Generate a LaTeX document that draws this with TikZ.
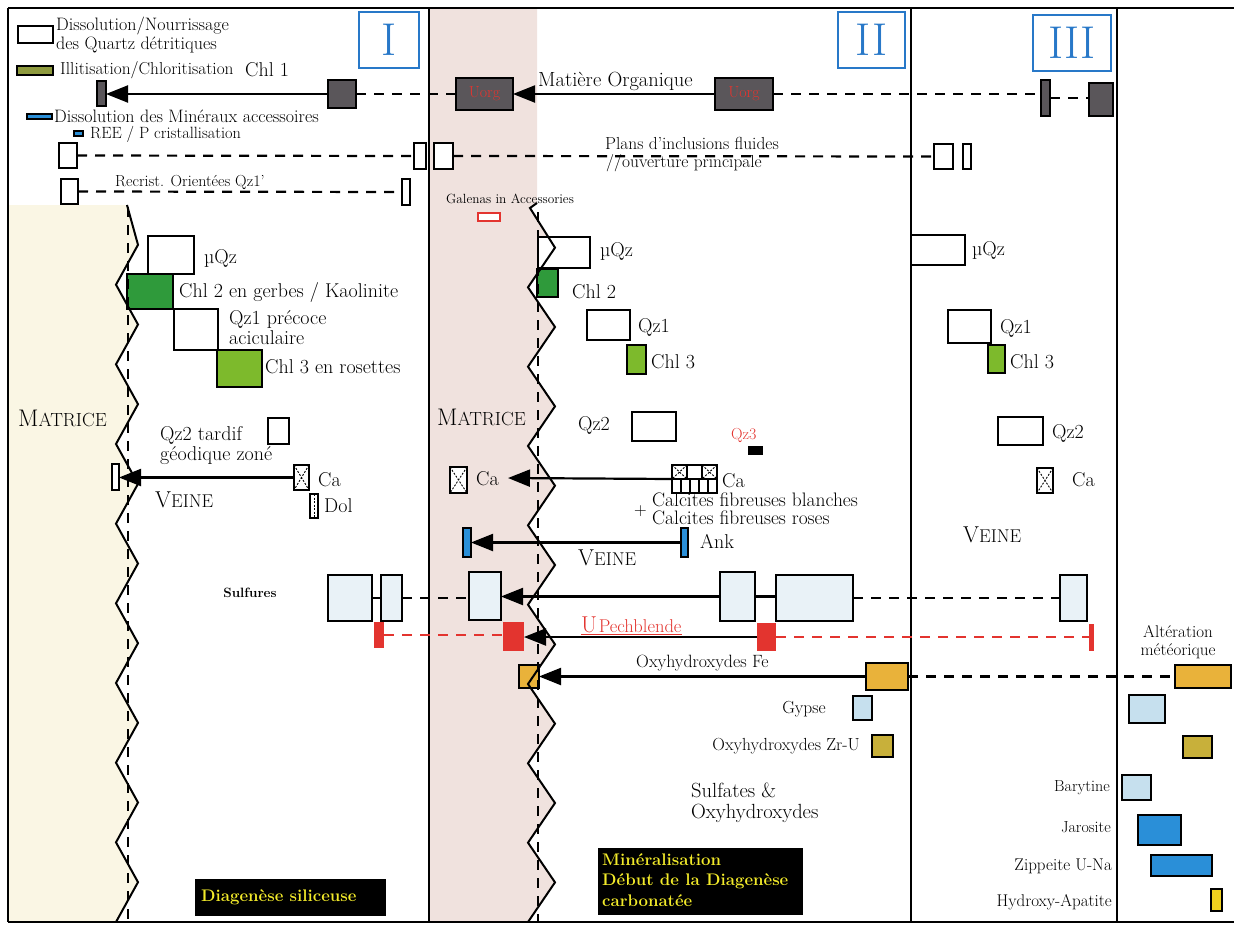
\documentclass[tikz,border=0pt]{standalone}
\usetikzlibrary{arrows.meta}
\definecolor{beigebg}{HTML}{FAF6E4}
\definecolor{pinkbg}{HTML}{F0E2DE}
\definecolor{omgrey}{HTML}{5A565A}
\definecolor{chlolive}{HTML}{8E9A3E}
\definecolor{greentwo}{HTML}{2F9A3B}
\definecolor{greenthree}{HTML}{7DBA2C}
\definecolor{sulf}{HTML}{E9F2F7}
\definecolor{ured}{HTML}{E3342F}
\definecolor{orng}{HTML}{E9B23A}
\definecolor{zru}{HTML}{C8B03A}
\definecolor{gyb}{HTML}{C6E0EE}
\definecolor{jblue}{HTML}{2A8FD8}
\definecolor{apy}{HTML}{F2D21E}
\definecolor{numblue}{HTML}{2878C8}
\definecolor{ybold}{HTML}{F2EA2A}
\newcommand{\mkbox}[6][wbox]{\node[#1,minimum width={((#5)-(#3))*1pt},minimum height={((#6)-(#4))*1pt}] (#2) at ({((#3)+(#5))/2},{((#4)+(#6))/2}) {};}
\newcommand{\fs}[1]{\fontsize{#1}{#1}\selectfont}
\begin{document}
\begin{tikzpicture}[x=1pt,y=-1pt,
 bx/.style={draw, line width=1.9pt, inner sep=0pt, outer sep=0pt},
 wbox/.style={bx, fill=white},
 sbox/.style={bx, fill=sulf},
 ombox/.style={bx, fill=omgrey},
 chlbox/.style={bx, fill=chlolive},
 gtwobox/.style={bx, fill=greentwo},
 gthreebox/.style={bx, fill=greenthree},
 rbx/.style={fill=ured, inner sep=0pt, outer sep=0pt},
 obox/.style={bx, fill=orng},
 zbox/.style={bx, fill=zru},
 gybox/.style={bx, fill=gyb},
 jbox/.style={bx, fill=jblue},
 apbox/.style={bx, fill=apy},
 bbox/.style={bx, fill=jblue},
 blkbox/.style={fill=black, inner sep=0pt, outer sep=0pt},
 galbox/.style={draw=ured, line width=1.4pt, fill=white, inner sep=0pt, outer sep=0pt},
 numbox/.style={draw=numblue, line width=2.4pt, text=numblue, inner sep=0pt, font=\fontsize{46}{46}\selectfont},
 tb/.style={inner sep=0pt, font=\fontsize{20}{22}\selectfont},
 tm/.style={inner sep=0pt, font=\fontsize{17.5}{19.5}\selectfont},
 ts/.style={inner sep=0pt, font=\fontsize{16}{18}\selectfont},
 tx/.style={inner sep=0pt, font=\fontsize{13.3}{15}\selectfont},
 yt/.style={inner sep=0pt, text=ybold, font=\bfseries\fontsize{16.8}{20.5}\selectfont, align=left},
 conn/.style={line width=2.2pt},
 dconn/.style={line width=2.2pt, dash pattern=on 10pt off 8pt},
 rdconn/.style={dconn, draw=ured},
 arr/.style={conn, -{Triangle[length=22pt,width=17pt]}},
 frame/.style={line width=1.8pt},
 zz/.style={line width=2pt, line join=miter},
 hatch/.style={line width=0.9pt, dash pattern=on 2pt off 1.5pt}
]
\useasboundingbox (0,0) rectangle (1234,926);
% backgrounds
\fill[beigebg] (8,205) -- (127,205) \foreach \i in {1,...,18}{ -- ({ifthenelse(isodd(\i),138,116)},{205+\i*39.833}) } -- (8,922) -- cycle;
\fill[pinkbg] (429,8) -- (537,8) -- (537,203) -- (530,208) \foreach \i in {1,...,18}{ -- ({ifthenelse(isodd(\i),555,528)},{208+\i*39.667}) } -- (429,922) -- cycle;
% frame
\draw[frame] (8,8) -- (1234,8);
\draw[frame] (8,922) -- (1234,922);
\draw[frame] (8,8) -- (8,922);
\draw[frame] (429,8) -- (429,922);
\draw[frame] (911,8) -- (911,922);
\draw[frame] (1117,8) -- (1117,922);
% numbers
\node[numbox, minimum width=60pt, minimum height=56pt] (nI) at (389,40) {I};
\node[numbox, minimum width=67pt, minimum height=56pt] (nII) at (871.5,40) {II};
\node[numbox, minimum width=78pt, minimum height=56pt] (nIII) at (1072,43) {III};
% legend
\mkbox{lgw}{18}{26}{53}{43}
\node[inner sep=0pt, font=\fontsize{18}{19}\selectfont, anchor=north west, align=left] (lgwt) at (56,17) {Dissolution/Nourrissage\\des Quartz détritiques};
\mkbox[chlbox]{lgchl}{17}{66}{53}{75}
\node[inner sep=0pt, font=\fs{17.3}, anchor=west] (lgchlt) at (60,70) {Illitisation/Chloritisation};
\node[tb, anchor=west] (chlone) at (245,70) {Chl 1};
\mkbox[bbox]{lgacc}{27}{114}{52}{119}
\node[inner sep=0pt, font=\fs{18}, anchor=west] (lgacct) at (54,116) {Dissolution des Minéraux accessoires};
\mkbox[bbox]{lgree}{74}{131}{83}{136}
\node[inner sep=0pt, font=\fs{16.3}, anchor=west] (lgreet) at (90,134) {REE / P cristallisation};
% organic matter row
\mkbox[ombox]{chlbar}{97}{81}{106}{106}
\mkbox[ombox]{omone}{328}{80}{356}{108}
\mkbox[ombox]{omL}{456}{78}{513}{110}
\mkbox[ombox]{omR}{715}{78}{773}{110}
\mkbox[ombox]{omthree}{1041}{80}{1050}{116}
\mkbox[ombox]{omfour}{1089}{83}{1113}{116}
\node[ts, text=ured] (omLt) at (omL) {Uorg};
\node[ts, text=ured] (omRt) at (omR) {Uorg};
\draw[arr] (omone.west) -- (omone.west -| chlbar.east);
\draw[dconn] (omone.east) -- (omL.west);
\draw[arr] (omR.west) -- (omL.east);
\node[inner sep=0pt, font=\fs{20.5}, anchor=west] (mo) at (538,81) {Matière Organique};
\draw[dconn] (omR.east) -- (omR.east -| omthree.west);
\draw[dconn] (omthree.east) -- (omthree.east -| omfour.west);
% fluid inclusion row
\mkbox{aone}{59}{143}{77}{168}
\mkbox{atwo}{414}{143}{426}{169}
\mkbox{athree}{434}{143}{453}{169}
\mkbox{afour}{934}{144}{953}{169}
\mkbox{afive}{963}{144}{971}{169}
\draw[dconn] (aone.east) -- (atwo.west);
\draw[dconn] (athree.east) -- (afour.west);
\node[inner sep=0pt, font=\fs{17.4}, anchor=west] (plans) at (605,143) {Plans d’inclusions fluides};
\node[inner sep=0pt, font=\fs{17.4}, anchor=west] (ouv) at (606,163) {//ouverture principale};
% recrist row
\mkbox{bone}{61}{179}{78}{204}
\mkbox{btwo}{402}{179}{410}{205}
\draw[dconn] (bone.east) -- (btwo.west);
\node[inner sep=0pt, font=\fs{16}, anchor=west] (recr) at (115,182) {Recrist. Orientées Qz1’};
% galena
\node[tx, anchor=west] (galt) at (446,199) {Galenas in Accessories};
\mkbox[galbox]{gal}{478}{213}{500}{221}
% column I
\mkbox{qzL}{148}{236}{194}{274}
\node[tb, anchor=west] (qzLt) at (204,258) {µQz};
\mkbox[gtwobox]{chltwoL}{127}{274}{173}{309}
\node[tb, anchor=west] (chltwoLt) at (179,292) {Chl 2 en gerbes / Kaolinite};
\mkbox{qzoneL}{174}{309}{218}{350}
\node[tb, anchor=north west, align=left] (qzoneLt) at (229,310) {Qz1 précoce\\[-2pt]aciculaire};
\mkbox[gthreebox]{chlthreeL}{217}{350}{262}{387}
\node[tb, anchor=west] (chlthreeLt) at (265,367) {Chl 3 en rosettes};
\node[inner sep=0pt, anchor=west] (matL) at (18,418) {\fs{24}M\fs{19}ATRICE};
\mkbox{qztwoL}{268}{418}{289}{444}
\node[tb, anchor=north west, align=left] (qztwoLt) at (160,426) {Qz2 tardif\\[-2pt]géodique zoné};
\mkbox{caL}{294}{465}{309}{490}
\draw[hatch] (caL.north west) -- (caL.south east) (caL.north east) -- (caL.south west);
\node[tb, anchor=west] (caLt) at (318,480) {Ca};
\mkbox{vbar}{112}{464}{119}{490}
\draw[arr] (caL.west) -- (caL.west -| vbar.east);
\node[inner sep=0pt, anchor=west] (veineL) at (155,500) {\fs{23}V\fs{18.5}EINE};
\mkbox{dol}{310}{494}{318}{518}
\draw[hatch] (dol.north) -- (dol.south);
\node[tb, anchor=west] (dolt) at (324,506) {Dol};
% sulfides
\node[inner sep=0pt, font=\bfseries\fontsize{13.5}{15}\selectfont] (sulft) at (250,593) {Sulfures};
\mkbox[sbox]{sone}{328}{575}{372}{621}
\mkbox[sbox]{stwo}{381}{575}{402}{621}
\mkbox[sbox]{sthree}{469}{572}{501}{620}
\mkbox[sbox]{sfour}{720}{572}{755}{621}
\mkbox[sbox]{sfive}{776}{575}{853}{621}
\mkbox[sbox]{ssix}{1060}{575}{1087}{621}
\draw[conn] (sone.east) -- (stwo.west);
\draw[dconn] (stwo.east) -- (stwo.east -| sthree.west);
\draw[arr] (sfour.west) -- (sfour.west -| sthree.east);
\draw[conn] (sfour.east) -- (sfour.east -| sfive.west);
\draw[dconn] (sfive.east) -- (sfive.east -| ssix.west);
% uranium
\mkbox[rbx]{rone}{374}{622}{384}{648}
\mkbox[rbx]{rtwo}{503}{622}{524}{651}
\mkbox[rbx]{rthree}{757}{623}{776}{651}
\mkbox[rbx]{rfour}{1089}{624}{1094}{651}
\draw[rdconn] (rone.east) -- (rone.east -| rtwo.west);
\draw[arr] (rthree.west) -- (rthree.west -| rtwo.east);
\draw[rdconn] (rthree.east) -- (rthree.east -| rfour.west);
\node[inner sep=0pt, anchor=base west, text=ured] (upl) at (581,632) {{\fs{23}U}\,{\fs{18.5}Pechblende}};
\draw[ured, line width=1pt] ([yshift=-2pt]upl.base west) -- ([yshift=-2pt]upl.base east);
% Fe oxyhydroxides
\mkbox[obox]{yone}{519}{665}{539}{688}
\mkbox[obox]{ytwo}{866}{663}{908}{690}
\mkbox[obox]{ythree}{1175}{665}{1231}{688}
\draw[arr] (ytwo.west) -- (ytwo.west -| yone.east);
\draw[dconn] (ytwo.east) -- (ytwo.east -| ythree.west);
\node[inner sep=0pt, font=\fs{17.8}, anchor=west] (fet) at (636,663) {Oxyhydroxydes Fe};
\mkbox[gybox]{gy}{853}{696}{872}{720}
\node[tm, anchor=east] (gyt) at (826,709) {Gypse};
\mkbox[zbox]{zr}{872}{735}{893}{757}
\node[tm, anchor=east] (zrt) at (860,746) {Oxyhydroxydes Zr-U};
\node[inner sep=0pt, font=\fontsize{20.5}{21}\selectfont, anchor=north west, align=left] (sulfa) at (691,783) {Sulfates \&\\Oxyhydroxydes};
% column II
\mkbox{qzM}{538}{237}{590}{268}
\node[tb, anchor=west] (qzMt) at (600,251) {µQz};
\mkbox[gtwobox]{chltwoM}{537}{269}{558}{297}
\node[tb, anchor=west] (chltwoMt) at (572,292) {Chl 2};
\mkbox{qzoneM}{587}{310}{630}{340}
\node[tb, anchor=west] (qzoneMt) at (638,327) {Qz1};
\mkbox[gthreebox]{chlthreeM}{627}{345}{646}{374}
\node[tb, anchor=west] (chlthreeMt) at (651,362) {Chl 3};
\node[inner sep=0pt, anchor=west] (matM) at (437,417) {\fs{24}M\fs{19}ATRICE};
\mkbox{qztwoM}{632}{412}{676}{441}
\node[tb, anchor=west] (qztwoMt) at (578,425) {Qz2};
\node[ts, anchor=west, text=ured] (qzthreet) at (731,435) {Qz3};
\mkbox[blkbox]{qzthree}{748}{446}{763}{455}
\mkbox{caM}{450}{467}{467}{493}
\draw[hatch] (caM.north west) -- (caM.south east) (caM.north east) -- (caM.south west);
\node[tb, anchor=west] (caMt) at (476,479) {Ca};
\mkbox{caBig}{672}{465}{717}{493}
\draw[line width=1.2pt] (672,479) -- (717,479);
\draw[line width=1.2pt] (687,465) -- (687,479) (702,465) -- (702,479);
\draw[hatch] (672,465) -- (687,479) (687,465) -- (672,479) (702,465) -- (717,479) (717,465) -- (702,479);
\draw[line width=1.2pt] (681,479) -- (681,493) (690,479) -- (690,493) (699,479) -- (699,493) (708,479) -- (708,493);
\coordinate (caTip) at (508,478);
\draw[arr] (caBig.west) -- (caTip);
\node[tb, anchor=west] (caBigt) at (722,481) {Ca};
\node[inner sep=0pt, font=\fs{19.5}, anchor=west] (calb) at (652,500) {Calcites fibreuses blanches};
\node[tm, anchor=west] (plus) at (634,511) {+};
\node[inner sep=0pt, font=\fs{19.5}, anchor=west] (calr) at (652,518) {Calcites fibreuses roses};
\mkbox[bbox]{ank}{681}{528}{688}{557}
\mkbox[bbox]{ankL}{463}{528}{471}{557}
\draw[arr] (ank.west) -- (ankL.east);
\node[tb, anchor=west] (ankt) at (700,541) {Ank};
\node[inner sep=0pt, anchor=west] (veineM) at (578,558) {\fs{23}V\fs{18.5}EINE};
% column III
\mkbox{qzR}{911}{235}{965}{265}
\node[tb, anchor=west] (qzRt) at (972,250) {µQz};
\mkbox{qzoneR}{948}{310}{991}{343}
\node[tb, anchor=west] (qzoneRt) at (1000,328) {Qz1};
\mkbox[gthreebox]{chlthreeR}{988}{345}{1005}{373}
\node[tb, anchor=west] (chlthreeRt) at (1010,362) {Chl 3};
\mkbox{qztwoR}{998}{417}{1043}{445}
\node[tb, anchor=west] (qztwoRt) at (1052,433) {Qz2};
\mkbox{caR}{1037}{468}{1053}{493}
\draw[hatch] (caR.north west) -- (caR.south east) (caR.north east) -- (caR.south west);
\node[tb, anchor=west] (caRt) at (1072,480) {Ca};
\node[inner sep=0pt, anchor=west] (veineR) at (963,535) {\fs{23}V\fs{18.5}EINE};
% weathering column
\node[inner sep=0pt, font=\fontsize{17}{18.5}\selectfont, align=center] (alt) at (1178,642) {Altération\\météorique};
\mkbox[gybox]{wone}{1129}{695}{1165}{723}
\mkbox[zbox]{wtwo}{1183}{736}{1212}{758}
\mkbox[gybox]{bary}{1122}{775}{1151}{800}
\node[ts, anchor=east] (baryt) at (1110,788) {Barytine};
\mkbox[jbox]{jar}{1138}{815}{1181}{845}
\node[ts, anchor=east] (jart) at (1111,827) {Jarosite};
\mkbox[jbox]{zip}{1151}{855}{1212}{876}
\node[inner sep=0pt, font=\fs{17}, anchor=east] (zipt) at (1112,866) {Zippeite U-Na};
\mkbox[apbox]{ap}{1211}{889}{1222}{911}
\node[inner sep=0pt, font=\fs{17}, anchor=east] (apt) at (1112,902) {Hydroxy-Apatite};
% stage labels
\mkbox[blkbox]{diag}{195}{879}{386}{916}
\node[yt, anchor=west] (diagt) at (201,897) {Diagenèse siliceuse};
\mkbox[blkbox]{mine}{598}{848}{803}{915}
\node[yt, anchor=west] (minet) at (602,880) {Minéralisation\\Début de la Diagenèse\\carbonatée};
% zigzag boundaries
\draw[dconn] (128,207) -- (128,922);
\draw[dconn] (538,212) -- (538,922);
\draw[zz] (127,205) \foreach \i in {1,...,18}{ -- ({ifthenelse(isodd(\i),138,116)},{205+\i*39.833}) };
\draw[zz] (537,203) -- (530,208) \foreach \i in {1,...,18}{ -- ({ifthenelse(isodd(\i),555,528)},{208+\i*39.667}) };
\end{tikzpicture}
\end{document}
